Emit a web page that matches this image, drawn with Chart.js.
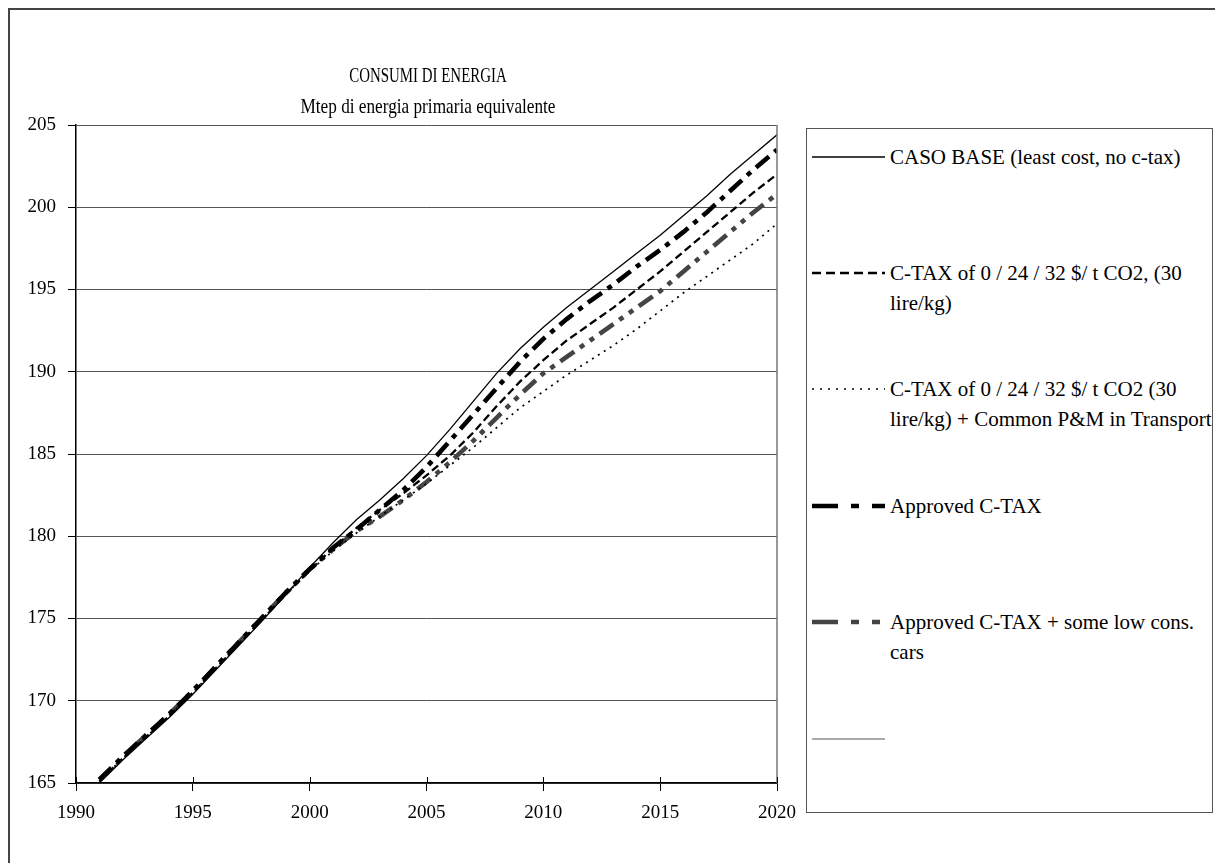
<!DOCTYPE html>
<html><head><meta charset="utf-8">
<script src="https://cdn.jsdelivr.net/npm/chart.js@4.4.1/dist/chart.umd.min.js"></script>
<style>
html,body{margin:0;padding:0;background:#fff;width:1215px;height:863px;overflow:hidden;font-family:"Liberation Serif","Times New Roman",serif;color:#000;}
#frame{position:absolute;left:8px;top:8px;width:1220px;height:870px;border:2px solid #444;box-sizing:border-box;}
#wrap{position:absolute;left:0;top:0;width:815px;height:863px;}
#title{position:absolute;left:178px;width:500px;top:60px;text-align:center;}
#title div{font-size:21px;line-height:31px;white-space:nowrap;}
#t1{transform:scaleX(0.71);transform-origin:50% 50%;}
#t2{transform:scaleX(0.82);transform-origin:50% 50%;}
#legend{position:absolute;left:806px;top:128px;width:407px;height:685px;border:1px solid #555;box-sizing:border-box;overflow:hidden;background:#fff;}
.item{position:absolute;left:0;width:100%;height:80px;}
.item svg{position:absolute;left:5px;top:0;}
.item .txt{position:absolute;left:83px;top:0;font-size:21px;line-height:30px;white-space:nowrap;}
</style></head>
<body>
<div id="frame"></div>
<div id="wrap"><canvas id="c" width="815" height="863"></canvas></div>
<div id="title"><div id="t1"></div><div id="t2"></div></div>
<div id="legend"></div>
<script>
const titleText = 'CONSUMI DI ENERGIA';
const subtitleText = 'Mtep di energia primaria equivalente';
const years = [1991,1992,1993,1994,1995,1996,1997,1998,1999,2000,2001,2002,2003,2004,2005,2006,2007,2008,2009,2010,2011,2012,2013,2014,2015,2016,2017,2018,2019,2020];
const casoBase     = [165.0,166.4,167.7,169.0,170.4,171.9,173.4,174.9,176.5,178.1,179.6,181.0,182.2,183.5,184.9,186.5,188.2,189.9,191.4,192.7,193.9,195.0,196.1,197.2,198.3,199.5,200.7,202.0,203.2,204.4];
const cTax         = [165.1,166.5,167.8,169.1,170.5,172.0,173.5,175.0,176.5,177.9,179.3,180.5,181.6,182.6,183.7,184.9,186.3,187.9,189.4,190.7,191.9,192.9,193.9,195.0,196.1,197.3,198.5,199.7,200.9,202.0];
const cTaxPM       = [165.1,166.5,167.8,169.1,170.5,172.0,173.5,175.0,176.5,177.9,179.1,180.2,181.2,182.2,183.2,184.3,185.4,186.6,187.8,188.8,189.8,190.7,191.6,192.6,193.7,194.8,195.8,196.8,197.8,199.0];
const approved     = [165.2,166.6,167.9,169.2,170.6,172.1,173.6,175.1,176.6,178.0,179.3,180.4,181.6,182.8,184.2,185.8,187.4,189.0,190.6,192.0,193.2,194.3,195.3,196.4,197.4,198.5,199.7,201.0,202.3,203.5];
const approvedCars = [165.2,166.6,167.9,169.2,170.6,172.1,173.6,175.1,176.6,178.0,179.2,180.3,181.2,182.2,183.3,184.5,185.8,187.2,188.6,189.9,190.9,191.9,192.9,193.9,194.9,196.1,197.3,198.5,199.7,200.8];
const seriesLabels = [
  ['CASO BASE (least cost, no c-tax)'],
  ['C-TAX of 0 / 24 / 32 $/ t CO2,  (30','lire/kg)'],
  ['C-TAX of 0 / 24 / 32 $/ t CO2 (30','lire/kg) + Common P&M in Transport'],
  ['Approved C-TAX'],
  ['Approved  C-TAX  + some low cons.','cars'],
  ['']
];
const xTicks = [1990,1995,2000,2005,2010,2015,2020];
const yTicks = [165,170,175,180,185,190,195,200,205];

document.getElementById('t1').textContent = titleText;
document.getElementById('t2').textContent = subtitleText;

const pts = arr => years.map((y,i)=>({x:y,y:arr[i]}));
const styles = [
  {c:'#000', w:1.3, d:[], ld:[]},
  {c:'#000', w:2.3, d:[8,4], ld:[9,5]},
  {c:'#000', w:1.7, d:[2,5], ld:[2,6]},
  {c:'#000', w:4.6, d:[17,7,5,7], ld:[26,13,8,13]},
  {c:'#444', w:4.6, d:[17,7,5,7,5,7], ld:[26,13,8,13,8,13]},
  {c:'#555', w:1, d:[], ld:[]}
];
const series = [casoBase, cTax, cTaxPM, approved, approvedCars, []];
const datasets = series.map((s,i)=>({
  label: seriesLabels[i].join(' '),
  data: pts(s).filter(p=>p.y!==undefined),
  borderColor: styles[i].c, borderWidth: styles[i].w, borderDash: styles[i].d,
  fill:false, pointRadius:0, tension:0
}));

const framePlugin = {
  id:'framePlugin',
  afterDraw(chart){
    const {ctx, chartArea:a, scales:{x}} = chart;
    ctx.save();
    ctx.strokeStyle = '#777'; ctx.lineWidth = 1.5;
    ctx.beginPath(); ctx.moveTo(a.right, a.top); ctx.lineTo(a.right, a.bottom); ctx.stroke();
    ctx.strokeStyle = '#000'; ctx.lineWidth = 1;
    xTicks.forEach(v=>{ const px = Math.round(x.getPixelForValue(v))+0.5; ctx.beginPath(); ctx.moveTo(px, a.bottom-6); ctx.lineTo(px, a.bottom); ctx.stroke(); });
    ctx.restore();
  }
};

const font = {family:'Liberation Serif', size:19};
new Chart(document.getElementById('c'), {
  type:'line',
  data:{datasets},
  options:{
    responsive:false, animation:false, devicePixelRatio:1,
    layout:{padding:{left:0, top:125, right:38, bottom:0}},
    plugins:{legend:{display:false}, title:{display:false}, tooltip:{enabled:false}},
    elements:{point:{radius:0}, line:{tension:0, borderCapStyle:'butt'}},
    scales:{
      x:{type:'linear', min:1990, max:2020,
        afterBuildTicks: s => { s.ticks = xTicks.map(v=>({value:v})); },
        grid:{drawOnChartArea:false, drawTicks:true, tickLength:8, color:'#000', tickColor:'#000'},
        border:{display:true, color:'#000', width:1.5},
        ticks:{font, color:'#000', padding:11, maxRotation:0, autoSkip:false, callback:v=>String(v)},
        afterFit: s => { s.height = 80; }
      },
      y:{type:'linear', min:165, max:205,
        afterBuildTicks: s => { s.ticks = yTicks.map(v=>({value:v})); },
        grid:{color:'#555', lineWidth:1, tickLength:8, tickColor:'#000'},
        border:{display:true, color:'#000', width:1.5},
        ticks:{font, color:'#000', padding:12, autoSkip:false, callback:v=>String(v)},
        afterFit: s => { s.width = 76; }
      }
    }
  },
  plugins:[framePlugin]
});

// HTML legend built from the datasets
const legend = document.getElementById('legend');
const itemTops = [13,129,245,362,478,595];
datasets.forEach((ds,i)=>{
  const it = document.createElement('div'); it.className='item'; it.style.top = itemTops[i]+'px';
  const svgNS='http://www.w3.org/2000/svg';
  const svg = document.createElementNS(svgNS,'svg'); svg.setAttribute('width','73'); svg.setAttribute('height','30');
  const ln = document.createElementNS(svgNS,'line');
  ln.setAttribute('x1','0'); ln.setAttribute('x2','73'); ln.setAttribute('y1','15'); ln.setAttribute('y2','15');
  ln.setAttribute('stroke', ds.borderColor); ln.setAttribute('stroke-width', styles[i].w);
  if (styles[i].ld.length) ln.setAttribute('stroke-dasharray', styles[i].ld.join(','));
  svg.appendChild(ln); it.appendChild(svg);
  const tx = document.createElement('div'); tx.className='txt';
  seriesLabels[i].forEach(line=>{ const d=document.createElement('div'); d.textContent=line; tx.appendChild(d); });
  it.appendChild(tx); legend.appendChild(it);
});
</script>
</body></html>
